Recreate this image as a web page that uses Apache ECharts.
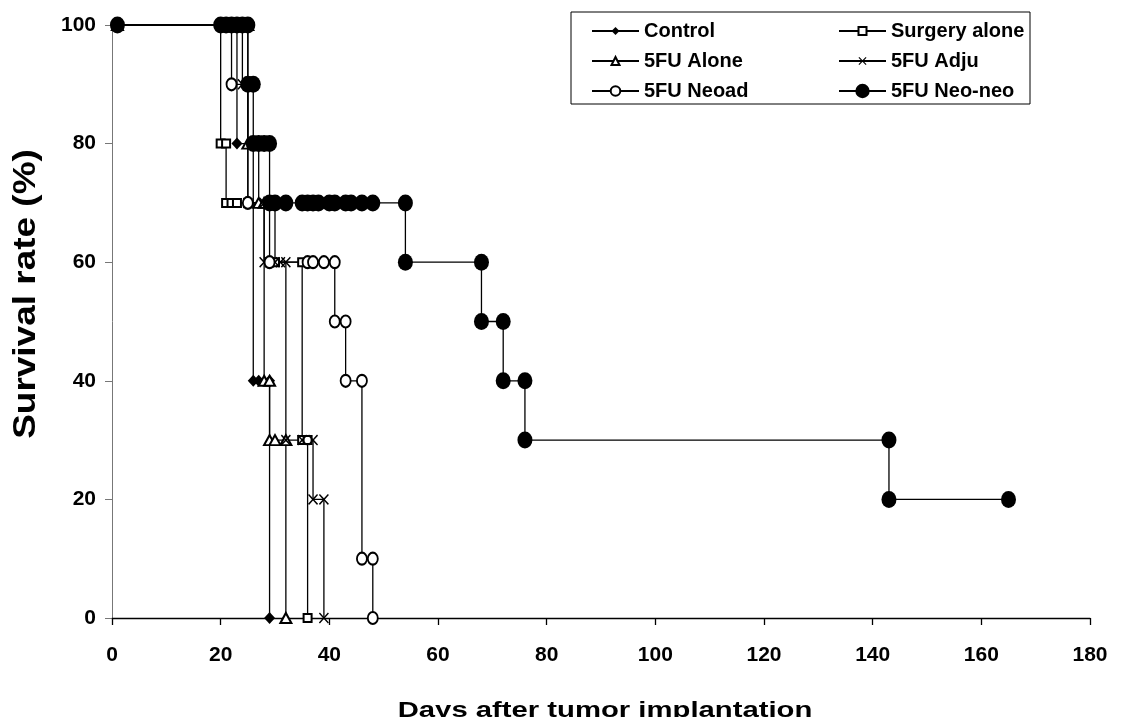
<!DOCTYPE html>
<html lang="en">
<head>
    <meta charset="utf-8">
    <title>Survival rate</title>
    <script src="https://cdn.jsdelivr.net/npm/echarts@6/dist/echarts.min.js" type="text/javascript" charset="utf-8"></script>
    <style>
        html, body { margin: 0; padding: 0; background: #fff; }
        #myEchart { width: 1121px; height: 717px; }
    </style>
</head>
<body>
<div id="myEchart"></div>
<script type="text/javascript">
    // days after implantation / survival rate (%) for each group
    var controlDays = [1, 23, 23, 26, 26, 27, 29, 29];
    var controlRate = [100, 100, 80, 80, 40, 40, 40, 0];

    var surgeryDays = [1, 20, 20, 21, 21, 22, 23, 30, 30, 35, 35, 36, 36];
    var surgeryRate = [100, 100, 80, 80, 70, 70, 70, 70, 60, 60, 30, 30, 0];

    var aloneDays = [1, 25, 25, 27, 27, 28, 28, 29, 29, 30, 32, 32];
    var aloneRate = [100, 100, 80, 80, 70, 70, 40, 40, 30, 30, 30, 0];

    var adjuDays = [1, 24, 24, 25, 25, 28, 28, 29, 30, 31, 32, 32, 35, 37, 37, 39, 39];
    var adjuRate = [100, 100, 90, 90, 70, 70, 60, 60, 60, 60, 60, 30, 30, 30, 20, 20, 0];

    var neoadDays = [1, 22, 22, 25, 25, 29, 29, 36, 37, 39, 41, 41, 43, 43, 46, 46, 48, 48];
    var neoadRate = [100, 100, 90, 90, 70, 70, 60, 60, 60, 60, 60, 50, 50, 40, 40, 10, 10, 0];

    var neoneoDays = [1, 20, 21, 22, 23, 24, 25, 25, 26, 26, 27, 28, 29, 29, 30, 32, 35, 36, 37, 38,
        40, 41, 43, 44, 46, 48, 54, 54, 68, 68, 72, 72, 76, 76, 143, 143, 165];
    var neoneoRate = [100, 100, 100, 100, 100, 100, 100, 90, 90, 80, 80, 80, 80, 70, 70, 70, 70, 70, 70, 70,
        70, 70, 70, 70, 70, 70, 70, 60, 60, 50, 50, 40, 40, 30, 30, 20, 20];

    var seriesNames = ['Control', 'Surgery alone', '5FU Alone', '5FU Adju', '5FU Neoad', '5FU Neo-neo'];
    var xTicks = [0, 20, 40, 60, 80, 100, 120, 140, 160, 180];
    var yTicks = [0, 20, 40, 60, 80, 100];

    function pairs(days, rate) {
        var out = [];
        for (var i = 0; i < days.length; i++) {
            out.push([days[i], rate[i]]);
        }
        return out;
    }

    var fontName = '"Liberation Sans", Arial, sans-serif';
    var crossPath = 'path://M0,1L1,0L5,4L9,0L10,1L6,5L10,9L9,10L5,6L1,10L0,9L4,5Z';

    function makeSeries(name, days, rate, symbol, size, empty) {
        return {
            name: name,
            type: 'line',
            data: pairs(days, rate),
            symbol: symbol,
            symbolSize: size,
            showAllSymbol: true,
            lineStyle: { color: '#000', width: 1.3 },
            itemStyle: empty ? { color: '#000', borderColor: '#000', borderWidth: 1 } : { color: '#000' },
            emphasis: { disabled: true }
        };
    }

    // one legend per entry so each marker keeps its own size
    function makeLegend(name, left, top, h) {
        return {
            data: [name],
            left: left,
            top: top,
            padding: 0,
            itemWidth: 47,
            itemHeight: h,
            selectedMode: false,
            textStyle: { fontFamily: fontName, fontWeight: 'bold', fontSize: 20, color: '#000' }
        };
    }

    var myChart = echarts.init(document.getElementById('myEchart'));
    var option = {
        animation: false,
        backgroundColor: '#fff',
        grid: { left: 112, right: 31, top: 25, bottom: 99 },
        legend: [
            makeLegend(seriesNames[0], 591, 21, 10),
            makeLegend(seriesNames[1], 838, 21, 10),
            makeLegend(seriesNames[2], 591, 51, 10),
            makeLegend(seriesNames[3], 838, 51, 10),
            makeLegend(seriesNames[4], 591, 81, 12),
            makeLegend(seriesNames[5], 838, 81, 18)
        ],
        xAxis: {
            type: 'value',
            min: xTicks[0],
            max: xTicks[xTicks.length - 1],
            interval: 20,
            axisLine: { lineStyle: { color: '#000', width: 1.3 } },
            axisTick: { length: 7, lineStyle: { color: '#000', width: 1.3 } },
            splitLine: { show: false },
            axisLabel: { margin: 27, color: '#000', fontFamily: fontName, fontWeight: 'bold', fontSize: 21 }
        },
        yAxis: {
            type: 'value',
            min: yTicks[0],
            max: yTicks[yTicks.length - 1],
            interval: 20,
            axisLine: { show: true, lineStyle: { color: '#777', width: 1 } },
            axisTick: { show: true, length: 7, lineStyle: { color: '#777', width: 1 } },
            splitLine: { show: false },
            axisLabel: { margin: 16, color: '#000', fontFamily: fontName, fontWeight: 'bold', fontSize: 21 }
        },
        graphic: [
            {
                type: 'rect', silent: true, z: 0,
                shape: { x: 571, y: 12, width: 459, height: 92 },
                style: { fill: '#fff', stroke: '#000', lineWidth: 1 }
            },
            {
                type: 'text', silent: true, x: 605, y: 711, scaleX: 1.33,
                style: {
                    text: 'Days after tumor implantation', fill: '#000',
                    fontFamily: fontName, fontWeight: 'bold', fontSize: 22,
                    textAlign: 'center', textVerticalAlign: 'middle'
                }
            },
            {
                type: 'text', silent: true, x: 27, y: 294, rotation: Math.PI / 2, scaleX: 1.54, scaleY: 1.28,
                style: {
                    text: 'Survival rate (%)', fill: '#000',
                    fontFamily: fontName, fontWeight: 'bold', fontSize: 24,
                    textAlign: 'center', textVerticalAlign: 'middle'
                }
            }
        ],
        series: [
            makeSeries(seriesNames[0], controlDays, controlRate, 'diamond', [11, 12], false),
            makeSeries(seriesNames[1], surgeryDays, surgeryRate, 'emptyRect', [8, 8], true),
            makeSeries(seriesNames[2], aloneDays, aloneRate, 'emptyTriangle', [11, 10], true),
            makeSeries(seriesNames[3], adjuDays, adjuRate, crossPath, [10, 11], false),
            makeSeries(seriesNames[4], neoadDays, neoadRate, 'emptyCircle', [10, 12], true),
            makeSeries(seriesNames[5], neoneoDays, neoneoRate, 'circle', [15, 17], false)
        ]
    };
    myChart.setOption(option);
</script>
</body>
</html>
